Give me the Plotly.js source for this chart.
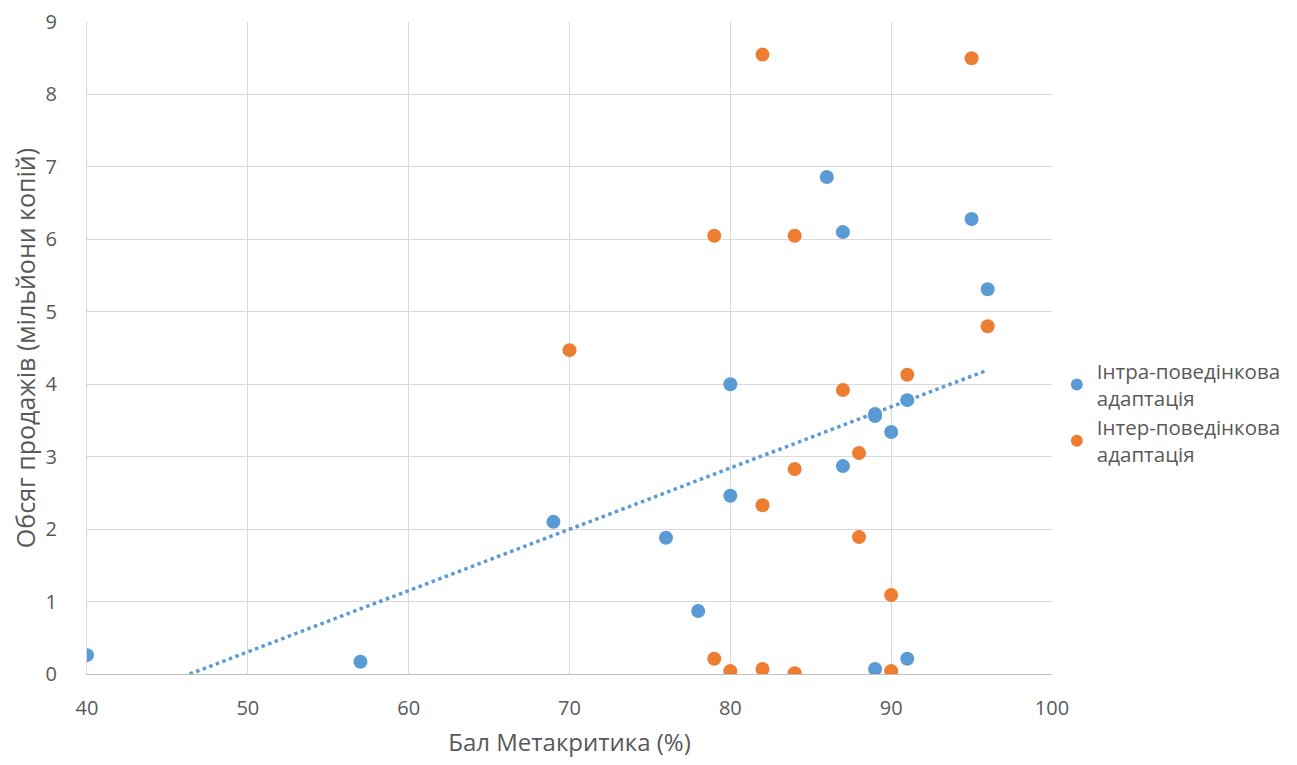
<!DOCTYPE html>
<html><head><meta charset="utf-8">
<script src="https://cdn.plot.ly/plotly-3.0.1.min.js"></script>
<style>body{margin:0;background:#fff}#c{width:1297px;height:765px}</style>
</head><body><div id="c"></div>
<script>
const intraX = [40, 57, 69, 76, 78, 80, 80, 86, 87, 87, 89, 89, 89, 90, 91, 91, 95, 96];
const intraY = [0.26, 0.17, 2.10, 1.88, 0.87, 4.00, 2.46, 6.86, 6.10, 2.87, 3.59, 3.56, 0.07, 3.34, 3.78, 0.21, 6.28, 5.31];
const interX = [70, 79, 79, 80, 82, 82, 82, 84, 84, 84, 87, 88, 88, 90, 90, 91, 95, 96];
const interY = [4.47, 6.05, 0.21, 0.04, 8.55, 2.33, 0.07, 6.05, 2.83, 0.01, 3.92, 3.05, 1.89, 1.09, 0.04, 4.13, 8.50, 4.80];
const seriesNames = ['Інтра-поведінкова<br>адаптація', 'Інтер-поведінкова<br>адаптація'];
const xTicks = [40, 50, 60, 70, 80, 90, 100];
const yTicks = [0, 1, 2, 3, 4, 5, 6, 7, 8, 9];

// linear trendline (least squares) of the intra series
const n = intraX.length;
const mx = intraX.reduce((a,b)=>a+b,0)/n, my = intraY.reduce((a,b)=>a+b,0)/n;
let sxy=0, sxx=0;
for (let i=0;i<n;i++){ sxy+=(intraX[i]-mx)*(intraY[i]-my); sxx+=(intraX[i]-mx)**2; }
const slope = sxy/sxx, icpt = my - slope*mx;
const x0 = Math.max(Math.min(...intraX), -icpt/slope), x1 = Math.max(...intraX);
const trendX = [x0, x1], trendY = [icpt+slope*x0, icpt+slope*x1];

const grey = '#595959';
const data = [
  {type:'scatter', mode:'lines', x:trendX, y:trendY, line:{color:'#5b9bd5', width:3.5, dash:'dot'}, showlegend:false, hoverinfo:'skip'},
  {type:'scatter', mode:'markers', name:seriesNames[0], x:intraX, y:intraY, marker:{color:'#5b9bd5', size:14}},
  {type:'scatter', mode:'markers', name:seriesNames[1], x:interX, y:interY, marker:{color:'#ed7d31', size:14}}
];
const layout = {
  width:1297, height:765,
  margin:{l:87, r:245, t:22, b:91, autoexpand:false},
  paper_bgcolor:'#fff', plot_bgcolor:'#fff',
  font:{family:'"Open Sans", Roboto, sans-serif', color:grey, size:16},
  xaxis:{range:[40,100], tickvals:xTicks, ticktext:xTicks.map(String), showgrid:true, gridcolor:'#d9d9d9', gridwidth:1.3,
    zeroline:false, showline:true, linecolor:'#bfbfbf', linewidth:1.3, mirror:false, ticks:'', ticklabelstandoff:16,
    tickfont:{size:20, color:grey},
    title:{text:'Бал Метакритика (%)', font:{size:24, color:grey}, standoff:14}},
  yaxis:{range:[0,9], tickvals:yTicks, showgrid:true, gridcolor:'#d9d9d9', gridwidth:1.3,
    zeroline:false, showline:true, linecolor:'#d9d9d9', ticks:'', ticklabelstandoff:25,
    tickfont:{size:20, color:grey},
    title:{text:'Обсяг продажів (мільйони копій)', font:{size:25, color:grey}, standoff:2}},
  legend:{x:1.005, y:0.495, xanchor:'left', yanchor:'top', font:{size:20.5, color:grey}, tracegroupgap:3, itemsizing:'constant'},
  showlegend:true
};
Plotly.newPlot('c', data, layout, {displayModeBar:false});
</script></body></html>
